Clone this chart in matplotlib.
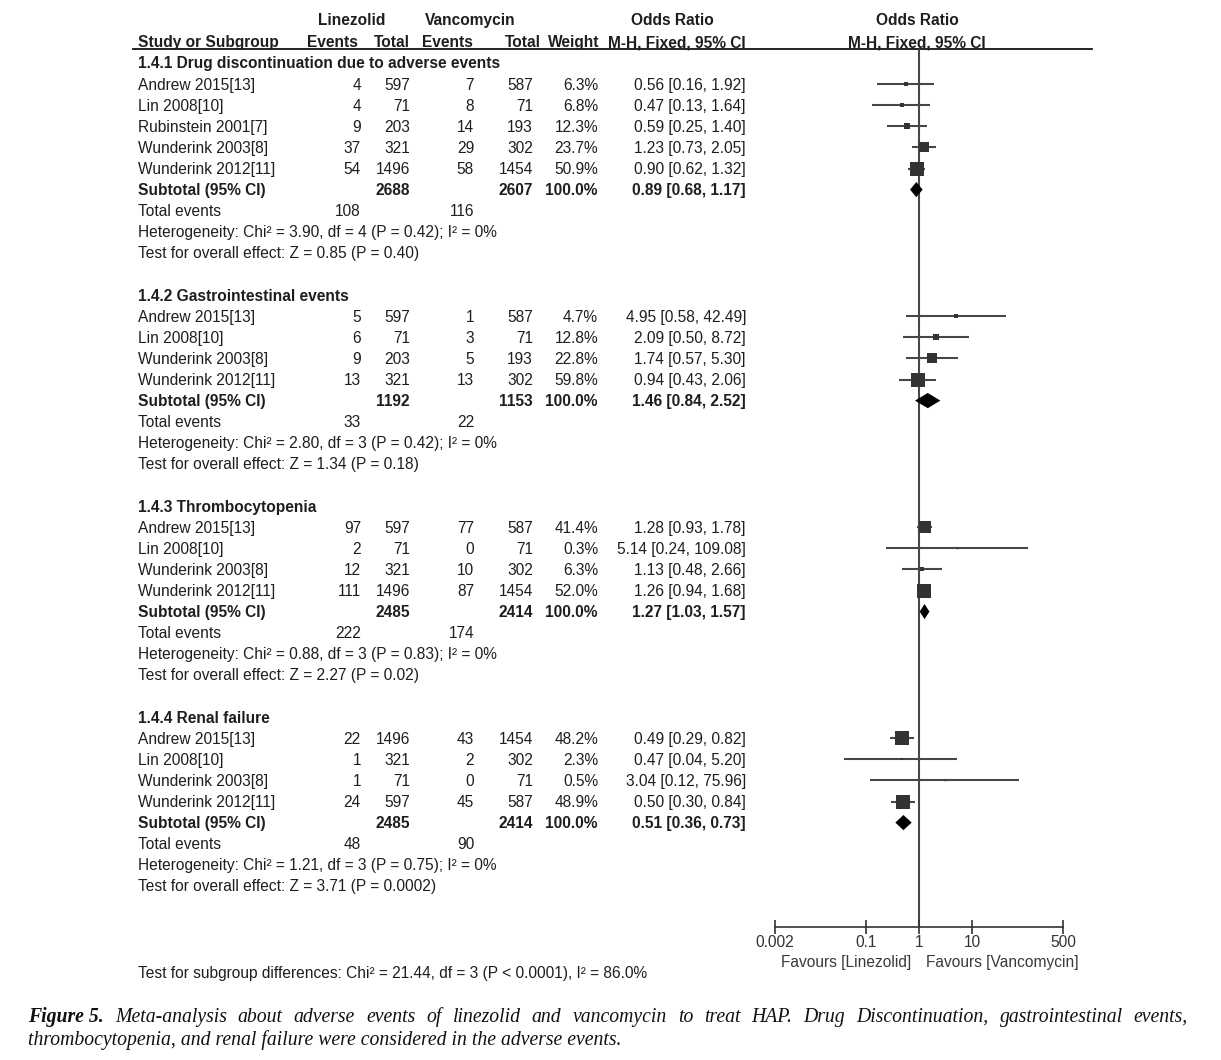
import numpy as np
import matplotlib
matplotlib.use('Agg')
import matplotlib.pyplot as plt

plt.rcParams['font.family'] = ['Liberation Sans', 'DejaVu Sans']

# data
groups = ['1.4.1 Drug discontinuation due to adverse events', '1.4.2 Gastrointestinal events',
          '1.4.3 Thrombocytopenia', '1.4.4 Renal failure']
studies = [['Andrew 2015[13]', 'Lin 2008[10]', 'Rubinstein 2001[7]', 'Wunderink 2003[8]', 'Wunderink 2012[11]'],
           ['Andrew 2015[13]', 'Lin 2008[10]', 'Wunderink 2003[8]', 'Wunderink 2012[11]'],
           ['Andrew 2015[13]', 'Lin 2008[10]', 'Wunderink 2003[8]', 'Wunderink 2012[11]'],
           ['Andrew 2015[13]', 'Lin 2008[10]', 'Wunderink 2003[8]', 'Wunderink 2012[11]']]
lin_events = [[4, 4, 9, 37, 54], [5, 6, 9, 13], [97, 2, 12, 111], [22, 1, 1, 24]]
lin_total = [[597, 71, 203, 321, 1496], [597, 71, 203, 321], [597, 71, 321, 1496], [1496, 321, 71, 597]]
van_events = [[7, 8, 14, 29, 58], [1, 3, 5, 13], [77, 0, 10, 87], [43, 2, 0, 45]]
van_total = [[587, 71, 193, 302, 1454], [587, 71, 193, 302], [587, 71, 302, 1454], [1454, 302, 71, 587]]
weights = [[6.3, 6.8, 12.3, 23.7, 50.9], [4.7, 12.8, 22.8, 59.8], [41.4, 0.3, 6.3, 52.0], [48.2, 2.3, 0.5, 48.9]]
or_est = [[0.56, 0.47, 0.59, 1.23, 0.90], [4.95, 2.09, 1.74, 0.94], [1.28, 5.14, 1.13, 1.26], [0.49, 0.47, 3.04, 0.50]]
or_lo = [[0.16, 0.13, 0.25, 0.73, 0.62], [0.58, 0.50, 0.57, 0.43], [0.93, 0.24, 0.48, 0.94], [0.29, 0.04, 0.12, 0.30]]
or_hi = [[1.92, 1.64, 1.40, 2.05, 1.32], [42.49, 8.72, 5.30, 2.06], [1.78, 109.08, 2.66, 1.68], [0.82, 5.20, 75.96, 0.84]]

sub_lin_total = [2688, 1192, 2485, 2485]
sub_van_total = [2607, 1153, 2414, 2414]
sub_est = [0.89, 1.46, 1.27, 0.51]
sub_lo = [0.68, 0.84, 1.03, 0.36]
sub_hi = [1.17, 2.52, 1.57, 0.73]
tot_lin_events = [108, 33, 222, 48]
tot_van_events = [116, 22, 174, 90]
heterogeneity = ['Heterogeneity: Chi\u00b2 = 3.90, df = 4 (P = 0.42); I\u00b2 = 0%',
                 'Heterogeneity: Chi\u00b2 = 2.80, df = 3 (P = 0.42); I\u00b2 = 0%',
                 'Heterogeneity: Chi\u00b2 = 0.88, df = 3 (P = 0.83); I\u00b2 = 0%',
                 'Heterogeneity: Chi\u00b2 = 1.21, df = 3 (P = 0.75); I\u00b2 = 0%']
overall = ['Test for overall effect: Z = 0.85 (P = 0.40)',
           'Test for overall effect: Z = 1.34 (P = 0.18)',
           'Test for overall effect: Z = 2.27 (P = 0.02)',
           'Test for overall effect: Z = 3.71 (P = 0.0002)']
subgroup_test = 'Test for subgroup differences: Chi\u00b2 = 21.44, df = 3 (P < 0.0001), I\u00b2 = 86.0%'
xticks = [0.002, 0.1, 1, 10, 500]
xticklabels = ['0.002', '0.1', '1', '10', '500']

W, H = 1221, 1060
fig = plt.figure(figsize=(W / 100, H / 100), dpi=100)

# row units: row k sits at pixel 63 + 21.1*k
ROW0, DY = 63, 21.1
ylim = ((H - ROW0) / DY, (0 - ROW0) / DY)
BL = 0.26  # baseline offset of text below the row centre

ax = fig.add_axes([0, 0, 1, 1])
ax.set_xlim(0, W)
ax.set_ylim(*ylim)
ax.axis('off')

# forest panel, 1 at px 919, 53.3 px per decade
fx0, fx1 = 740, 1100
axf = fig.add_axes([fx0 / W, 0, (fx1 - fx0) / W, 1])
axf.set_xscale('log')
axf.set_xlim(10 ** ((fx0 - 919) / 53.3), 10 ** ((fx1 - 919) / 53.3))
axf.set_ylim(*ylim)
axf.patch.set_alpha(0)

txt = '#1e1e1e'
fs = 11.2
col_le, col_lt, col_ve, col_vt, col_w, col_ci = 361, 410, 474, 533, 598, 746
name_x = 138

# header
hy1 = (20 - ROW0) / DY + BL
hy2 = (42 - ROW0) / DY + BL
hline = (49 - ROW0) / DY
hb = dict(fontsize=fs, fontweight='bold', color=txt, va='baseline')
ax.text(352, hy1, 'Linezolid', ha='center', **hb)
ax.text(470, hy1, 'Vancomycin', ha='center', **hb)
ax.text(672, hy1, 'Odds Ratio', ha='center', **hb)
ax.text(917, hy1, 'Odds Ratio', ha='center', **hb)
ax.text(name_x, hy2, 'Study or Subgroup', ha='left', **hb)
ax.text(358, hy2, 'Events', ha='right', **hb)
ax.text(410, hy2, 'Total', ha='right', **hb)
ax.text(473, hy2, 'Events', ha='right', **hb)
ax.text(541, hy2, 'Total', ha='right', **hb)
ax.text(599, hy2, 'Weight', ha='right', **hb)
ax.text(746, hy2, 'M-H, Fixed, 95% CI', ha='right', **hb)
ax.text(917, hy2, 'M-H, Fixed, 95% CI', ha='center', **hb)
ax.plot([133, 1092], [hline, hline], color='#111111', lw=1.3)

norm = dict(fontsize=fs, color=txt, va='baseline')
bold = dict(fontsize=fs, color=txt, va='baseline', fontweight='bold')

row = 0
for g in range(len(groups)):
    ax.text(name_x, row + BL, groups[g], ha='left', **bold)
    row += 1
    for i in range(len(studies[g])):
        t = row + BL
        ax.text(name_x, t, studies[g][i], ha='left', **norm)
        ax.text(col_le, t, str(lin_events[g][i]), ha='right', **norm)
        ax.text(col_lt, t, str(lin_total[g][i]), ha='right', **norm)
        ax.text(col_ve, t, str(van_events[g][i]), ha='right', **norm)
        ax.text(col_vt, t, str(van_total[g][i]), ha='right', **norm)
        ax.text(col_w, t, '%.1f%%' % weights[g][i], ha='right', **norm)
        ax.text(col_ci, t, '%.2f [%.2f, %.2f]' % (or_est[g][i], or_lo[g][i], or_hi[g][i]), ha='right', **norm)
        axf.plot([or_lo[g][i], or_hi[g][i]], [row, row], color='#474747', lw=1.5, solid_capstyle='butt', zorder=2)
        side = max(1.9 * np.sqrt(weights[g][i]), 1.5)
        axf.plot(or_est[g][i], row, marker='s', ms=side * 0.72, color='#333333', mec='#333333', mew=0, zorder=3)
        row += 1
    t = row + BL
    ax.text(name_x, t, 'Subtotal (95% CI)', ha='left', **bold)
    ax.text(col_lt, t, str(sub_lin_total[g]), ha='right', **bold)
    ax.text(col_vt, t, str(sub_van_total[g]), ha='right', **bold)
    ax.text(col_w, t, '100.0%', ha='right', **bold)
    ax.text(col_ci, t, '%.2f [%.2f, %.2f]' % (sub_est[g], sub_lo[g], sub_hi[g]), ha='right', **bold)
    dh = 0.36
    axf.fill([sub_lo[g], sub_est[g], sub_hi[g], sub_est[g]], [row, row - dh, row, row + dh],
             color='black', lw=0, zorder=3)
    row += 1
    t = row + BL
    ax.text(name_x, t, 'Total events', ha='left', **norm)
    ax.text(col_le, t, str(tot_lin_events[g]), ha='right', **norm)
    ax.text(col_ve, t, str(tot_van_events[g]), ha='right', **norm)
    row += 1
    ax.text(name_x, row + BL, heterogeneity[g], ha='left', **norm)
    row += 1
    ax.text(name_x, row + BL, overall[g], ha='left', **norm)
    row += 2

axis_row = (927 - ROW0) / DY
axf.vlines(1, hline, axis_row, color='#474747', lw=1.5, zorder=1)

# x axis of forest panel
for s in ['top', 'right', 'left']:
    axf.spines[s].set_visible(False)
axf.spines['bottom'].set_position(('data', axis_row))
axf.spines['bottom'].set_bounds(xticks[0], xticks[-1])
axf.spines['bottom'].set_color('#333333')
axf.spines['bottom'].set_linewidth(1.2)
axf.set_xticks(xticks)
axf.set_xticklabels(xticklabels)
axf.xaxis.set_minor_locator(matplotlib.ticker.NullLocator())
axf.tick_params(axis='x', direction='inout', length=10, width=1.2, color='#333333',
                labelsize=fs, labelcolor='#333333', pad=1)
axf.set_yticks([])

fy = (962 - ROW0) / DY + BL
ax.text(911, fy, 'Favours [Linezolid]', ha='right', va='baseline', fontsize=fs, color='#3a3a3a')
ax.text(926, fy, 'Favours [Vancomycin]', ha='left', va='baseline', fontsize=fs, color='#3a3a3a')
ax.text(name_x, (973 - ROW0) / DY + BL, subgroup_test, ha='left', va='baseline', fontsize=fs, color=txt)

# caption, first line justified
cap_words1 = ['Meta-analysis', 'about', 'adverse', 'events', 'of', 'linezolid', 'and', 'vancomycin', 'to',
              'treat', 'HAP.', 'Drug', 'Discontinuation,', 'gastrointestinal', 'events,']
cap_line2 = 'thrombocytopenia, and renal failure were considered in the adverse events.'
cfs = 14.2
cap = dict(fontsize=cfs, family='Liberation Serif', style='italic', color='#111111', va='baseline')
cy1 = (1022 - ROW0) / DY
cy2 = (1045 - ROW0) / DY
renderer = fig.canvas.get_renderer()
items = [ax.text(0, cy1, 'Figure 5.', fontweight='bold', **cap)]
items += [ax.text(0, cy1, w, **cap) for w in cap_words1]
widths = [t.get_window_extent(renderer).width for t in items]
left, right = 28, 1188
gap = (right - left - sum(widths)) / (len(items) - 1)
x = left
for t, w in zip(items, widths):
    t.set_x(x)
    x += w + gap
ax.text(left, cy2, cap_line2, **cap)

fig.savefig('out.png', dpi=100)
